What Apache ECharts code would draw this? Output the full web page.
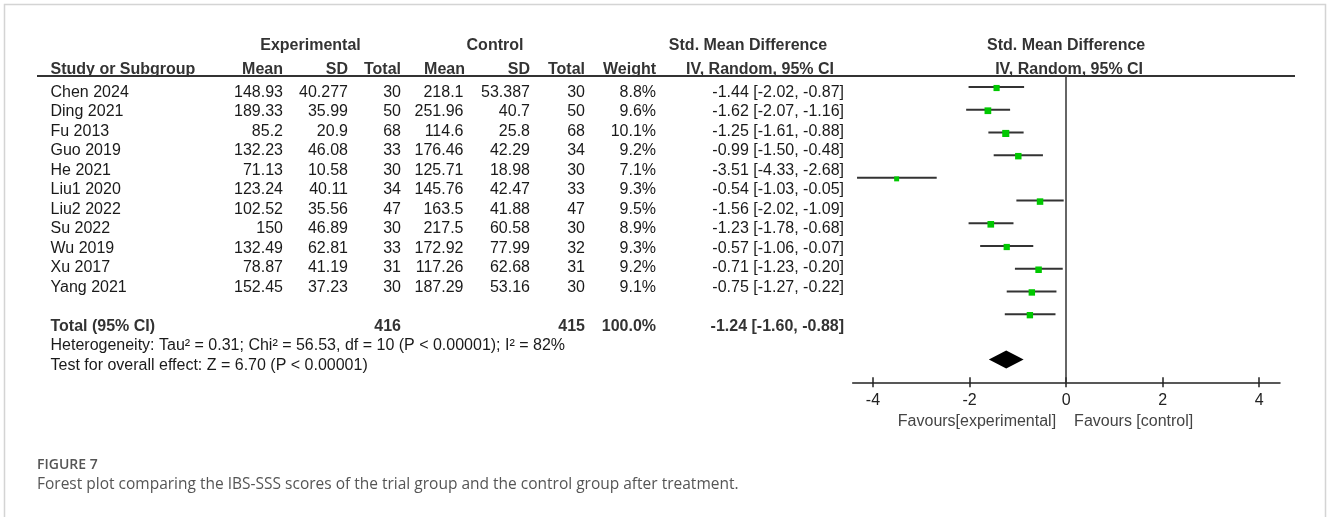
<!DOCTYPE html>
<html>
<head>
<meta charset="utf-8">
<script src="https://cdn.jsdelivr.net/npm/echarts@6/dist/echarts.min.js"></script>
<style>
html,body{margin:0;padding:0;background:#fff;}
#c{width:1328px;height:517px;}
</style>
</head>
<body>
<div id="c"></div>
<script>
// ---------- data ----------
const studies   = ['Chen 2024','Ding 2021','Fu 2013','Guo 2019','He 2021','Liu1 2020','Liu2 2022','Su 2022','Wu 2019','Xu 2017','Yang 2021'];
const expMean   = [148.93,189.33,85.2,132.23,71.13,123.24,102.52,150,132.49,78.87,152.45];
const expSD     = ['40.277','35.99','20.9','46.08','10.58','40.11','35.56','46.89','62.81','41.19','37.23'];
const expTotal  = [30,50,68,33,30,34,47,30,33,31,30];
const ctlMean   = [218.1,251.96,114.6,176.46,125.71,145.76,163.5,217.5,172.92,117.26,187.29];
const ctlSD     = ['53.387','40.7','25.8','42.29','18.98','42.47','41.88','60.58','77.99','62.68','53.16'];
const ctlTotal  = [30,50,68,34,30,33,47,30,32,31,30];
const weight    = [8.8,9.6,10.1,9.2,7.1,9.3,9.5,8.9,9.3,9.2,9.1];
const smd       = [-1.44,-1.62,-1.25,-0.99,-3.51,-0.54,-1.56,-1.23,-0.57,-0.71,-0.75];
const ciLow     = [-2.02,-2.07,-1.61,-1.50,-4.33,-1.03,-2.02,-1.78,-1.06,-1.23,-1.27];
const ciHigh    = [-0.87,-1.16,-0.88,-0.48,-2.68,-0.05,-1.09,-0.68,-0.07,-0.20,-0.22];
const totalExpN = 416, totalCtlN = 415, totalWeight = 100.0;
const pooled    = [-1.24,-1.60,-0.88]; // est, low, high
const xTicks    = [-4,-2,0,2,4];
const heterogeneityText = 'Heterogeneity: Tau² = 0.31; Chi² = 56.53, df = 10 (P < 0.00001); I² = 82%';
const overallText = 'Test for overall effect: Z = 6.70 (P < 0.00001)';
const favoursLeft = 'Favours[experimental]';
const favoursRight = 'Favours [control]';
const figLabel = 'FIGURE 7';
const caption = 'Forest plot comparing the IBS-SSS scores of the trial group and the control group after treatment.';

// ---------- chart ----------
const FONT = "'Liberation Sans', Arial, sans-serif";
const totalRow = studies.length + 1;
const studyData = studies.map((s,i)=>[i, ciLow[i], ciHigh[i], smd[i], weight[i]]);

const chart = echarts.init(document.getElementById('c'), null, {renderer:'canvas'});
chart.setOption({
  animation:false,
  backgroundColor:'#fff',
  grid:[
    {left:852.7, right:48, top:76, bottom:134.7, containLabel:false},
    // hidden grid giving the row scale of the text table
    {left:0, right:0, top:73, bottom:151.5, containLabel:false, show:false}
  ],
  xAxis:[{
    type:'value', min:-4.42, max:4.43, gridIndex:0,
    axisLine:{show:true, onZero:false, lineStyle:{color:'#222', width:1.5}},
    axisTick:{show:true, length:5, lineStyle:{color:'#222', width:1.5}, customValues:xTicks},
    axisLabel:{show:true, margin:10, fontFamily:FONT, fontSize:16, color:'#222', customValues:xTicks},
    splitLine:{show:false}
  },{
    type:'value', min:-4.42, max:4.43, position:'bottom', gridIndex:0,
    axisLine:{show:false, onZero:false},
    axisTick:{show:true, inside:true, length:5, lineStyle:{color:'#222', width:1.5}, customValues:xTicks},
    axisLabel:{show:false}, splitLine:{show:false}
  },{
    type:'value', min:0, max:1, gridIndex:1, show:false
  }],
  yAxis:[
    {type:'value', min:-0.485, max:13, inverse:true, show:false, gridIndex:0},
    {type:'value', min:-1, max:14, inverse:true, show:false, gridIndex:1}
  ],
  series:[{
    type:'custom',
    xAxisIndex:0, yAxisIndex:0,
    data:studyData,
    encode:{x:[1,2], y:0},
    renderItem:function(params, api){
      const i=api.value(0), lo=api.value(1), hi=api.value(2), est=api.value(3), w=api.value(4);
      const p1=api.coord([lo,i]), p2=api.coord([hi,i]), pc=api.coord([est,i]);
      const s=w*0.7;
      return {type:'group', children:[
        {type:'line', shape:{x1:p1[0],y1:p1[1],x2:p2[0],y2:p2[1]}, style:{stroke:'#333', lineWidth:2}},
        {type:'rect', shape:{x:pc[0]-s/2, y:pc[1]-s/2+1, width:s, height:s}, style:{fill:'#00c800'}}
      ]};
    },
    markLine:{
      silent:true, symbol:['none','none'], label:{show:false},
      lineStyle:{color:'#333', width:1.5, type:'solid'},
      data:[{xAxis:0}]
    },
    z:3
  },{
    type:'custom',
    xAxisIndex:0, yAxisIndex:0,
    data:[[totalRow, pooled[1], pooled[2], pooled[0]]],
    encode:{x:[1,2], y:0},
    renderItem:function(params, api){
      const i=api.value(0);
      const pl=api.coord([api.value(1),i]), ph=api.coord([api.value(2),i]), pe=api.coord([api.value(3),i]);
      const h=9;
      return {type:'polygon', shape:{points:[[pl[0],pl[1]],[pe[0],pe[1]-h],[ph[0],ph[1]],[pe[0],pe[1]+h]]}, style:{fill:'#000'}};
    },
    z:4
  }]
});

// ---------- table text ----------
const rowY = i => chart.convertToPixel({yAxisIndex:1}, i);
const x0 = chart.convertToPixel({xAxisIndex:0}, 0);
const els = [];
function txt(x, y, s, opt){
  opt = opt || {};
  els.push({type:'text', x:x, y:y, silent:true, style:{
    text:s, fontFamily:opt.family||FONT, fontSize:opt.size||16, fontWeight:opt.weight||'normal',
    fill:opt.color||'#1a1a1a', align:opt.align||'left', verticalAlign:'middle'}});
}
const colR = {expMean:283, expSD:348, expTotal:401, ctlMean:463.5, ctlSD:530, ctlTotal:585, weight:656, ci:844};
const HB = {weight:'bold', color:'#333'};
const hy1 = 46, hy2 = 69.5;
// header group labels
txt(310.5, hy1, 'Experimental', Object.assign({align:'center'}, HB));
txt(495, hy1, 'Control', Object.assign({align:'center'}, HB));
txt(748, hy1, 'Std. Mean Difference', Object.assign({align:'center'}, HB));
txt(x0, hy1, 'Std. Mean Difference', Object.assign({align:'center'}, HB));
// header column labels
txt(50.5, hy2, 'Study or Subgroup', HB);
txt(colR.expMean, hy2, 'Mean', Object.assign({align:'right'}, HB));
txt(colR.expSD, hy2, 'SD', Object.assign({align:'right'}, HB));
txt(colR.expTotal, hy2, 'Total', Object.assign({align:'right'}, HB));
txt(colR.ctlMean+1.5, hy2, 'Mean', Object.assign({align:'right'}, HB));
txt(colR.ctlSD, hy2, 'SD', Object.assign({align:'right'}, HB));
txt(colR.ctlTotal, hy2, 'Total', Object.assign({align:'right'}, HB));
txt(colR.weight, hy2, 'Weight', Object.assign({align:'right'}, HB));
txt(760, hy2, 'IV, Random, 95% CI', Object.assign({align:'center'}, HB));
txt(x0+3, hy2, 'IV, Random, 95% CI', Object.assign({align:'center'}, HB));
// header underline
els.push({type:'line', silent:true, shape:{x1:37, y1:76, x2:1295, y2:76}, style:{stroke:'#333', lineWidth:2}});
// study rows
studies.forEach((s,i)=>{
  const y=rowY(i);
  txt(50.5, y, s);
  txt(colR.expMean, y, String(expMean[i]), {align:'right'});
  txt(colR.expSD, y, expSD[i], {align:'right'});
  txt(colR.expTotal, y, String(expTotal[i]), {align:'right'});
  txt(colR.ctlMean, y, String(ctlMean[i]), {align:'right'});
  txt(colR.ctlSD, y, ctlSD[i], {align:'right'});
  txt(colR.ctlTotal, y, String(ctlTotal[i]), {align:'right'});
  txt(colR.weight, y, weight[i].toFixed(1)+'%', {align:'right'});
  txt(colR.ci, y, smd[i].toFixed(2)+' ['+ciLow[i].toFixed(2)+', '+ciHigh[i].toFixed(2)+']', {align:'right'});
});
// total row
const ty=rowY(totalRow);
txt(50.5, ty, 'Total (95% CI)', HB);
txt(colR.expTotal, ty, String(totalExpN), Object.assign({align:'right'}, HB));
txt(colR.ctlTotal, ty, String(totalCtlN), Object.assign({align:'right'}, HB));
txt(colR.weight, ty, totalWeight.toFixed(1)+'%', Object.assign({align:'right'}, HB));
txt(colR.ci, ty, pooled[0].toFixed(2)+' ['+pooled[1].toFixed(2)+', '+pooled[2].toFixed(2)+']', Object.assign({align:'right'}, HB));
txt(50.5, rowY(totalRow+1), heterogeneityText);
txt(50.5, rowY(totalRow+2), overallText);
// favours
txt(x0-10, 421.7, favoursLeft, {align:'right', color:'#444'});
txt(x0+8, 421.7, favoursRight, {align:'left', color:'#444'});
// caption
txt(37, 465, figLabel, {family:"'Open Sans', 'Noto Sans', sans-serif", size:14, weight:600, color:'#555'});
txt(37, 485, caption, {family:"'Open Sans', 'Noto Sans', sans-serif", size:15.5, color:'#555'});
// figure border
els.push({type:'rect', silent:true, shape:{x:4.5, y:4.5, width:1321, height:600}, style:{fill:'none', stroke:'#d4d4d4', lineWidth:1.5}, z:-1});
chart.setOption({graphic:els});
</script>
</body>
</html>
